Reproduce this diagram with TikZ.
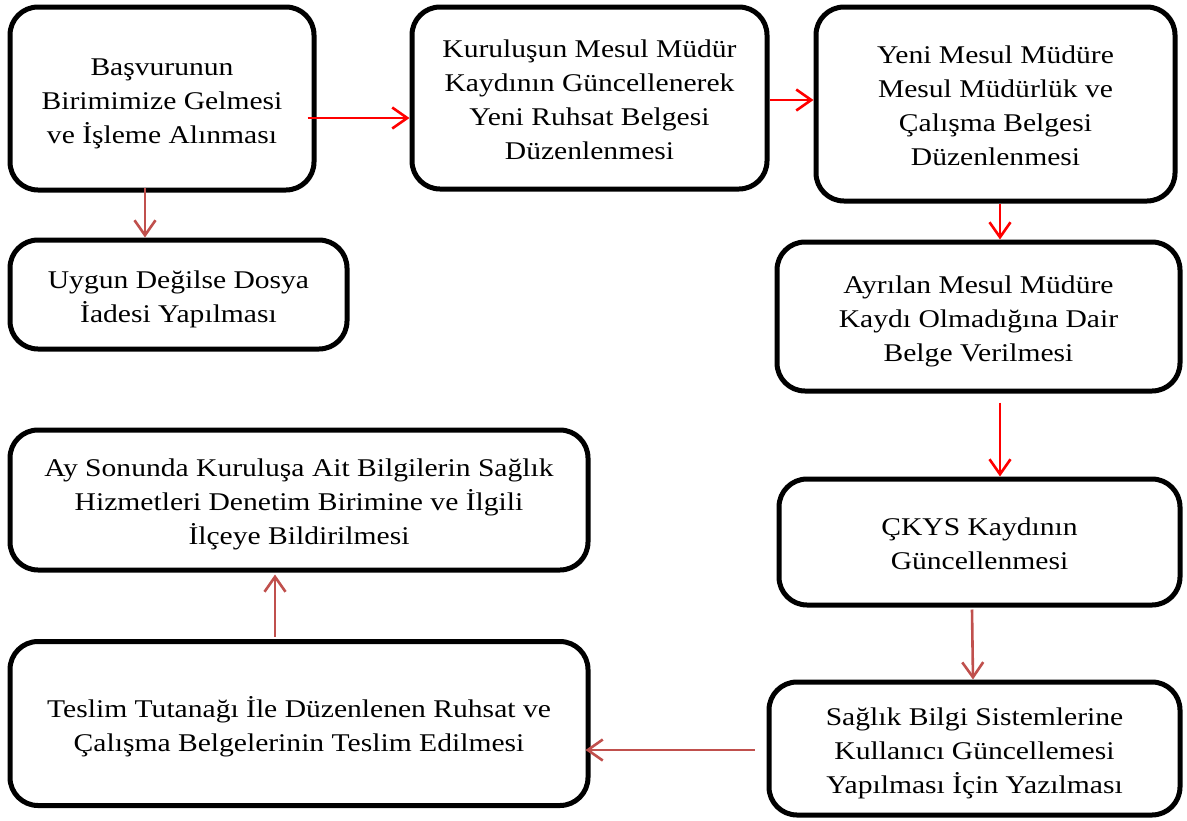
\documentclass[tikz,border=0pt]{standalone}
\usepackage{fontspec}
\usepackage{graphicx}
\setmainfont{Liberation Serif}
\usetikzlibrary{arrows.meta}
\definecolor{flowred}{HTML}{FF0000}
\definecolor{flowbrick}{HTML}{C0504D}
% centred multi-line label, set slightly wide and a little low
\newcommand{\steptext}[1]{\raisebox{-4pt}[\height][\depth]{\scalebox{1.16}[1]{\begin{tabular}{@{}c@{}}#1\end{tabular}}}}
\begin{document}
\begin{tikzpicture}[x=1pt,y=-1pt,
  stepbox/.style={draw=black, line width=5pt, rounded corners=28pt, fill=white,
    align=center, inner sep=0pt, font=\fontsize{25.5}{34}\selectfont},
  link/.style={line width=2.6pt, -{Straight Barb[length=15pt,width=21pt]}},
  linkred/.style={link, draw=flowred},
  linkbrick/.style={link, draw=flowbrick}]
\useasboundingbox (0,0) rectangle (1187,820);

% process steps
\node[stepbox, minimum width=304pt, minimum height=183pt] (b1) at (162,98.5)
  {\steptext{Başvurunun\\Birimimize Gelmesi\\ve İşleme Alınması}};
\node[stepbox, minimum width=355pt, minimum height=182pt] (b2) at (589.5,98)
  {\steptext{Kuruluşun Mesul Müdür\\Kaydının Güncellenerek\\Yeni Ruhsat Belgesi\\Düzenlenmesi}};
\node[stepbox, minimum width=359pt, minimum height=194pt] (b3) at (995.5,104)
  {\steptext{Yeni Mesul Müdüre\\Mesul Müdürlük ve\\Çalışma Belgesi\\Düzenlenmesi}};
\node[stepbox, minimum width=337pt, minimum height=109pt] (b4) at (178.5,294.5)
  {\steptext{Uygun Değilse Dosya\\İadesi Yapılması}};
\node[stepbox, minimum width=403pt, minimum height=149pt] (b5) at (978.5,316.5)
  {\steptext{Ayrılan Mesul Müdüre\\Kaydı Olmadığına Dair\\Belge Verilmesi}};
\node[stepbox, minimum width=578pt, minimum height=140pt] (b6) at (299,500)
  {\steptext{Ay Sonunda Kuruluşa Ait Bilgilerin Sağlık\\Hizmetleri Denetim Birimine ve İlgili\\İlçeye Bildirilmesi}};
\node[stepbox, minimum width=401pt, minimum height=126pt] (b7) at (979.5,542)
  {\steptext{ÇKYS Kaydının\\Güncellenmesi}};
\node[stepbox, minimum width=578pt, minimum height=164pt] (b8) at (299,723.5)
  {\steptext{Teslim Tutanağı İle Düzenlenen Ruhsat ve\\Çalışma Belgelerinin Teslim Edilmesi}};
\node[stepbox, minimum width=411pt, minimum height=133pt] (b9) at (974.5,748.5)
  {\steptext{Sağlık Bilgi Sistemlerine\\Kullanıcı Güncellemesi\\Yapılması İçin Yazılması}};

% connectors
\draw[linkred] ([shift={(-9,19.5)}]b1.east) -- ([shift={(0,20)}]b2.west);
\draw[linkred] ([shift={(0,2)}]b2.east) -- ([shift={(0,-4)}]b3.west);
\draw[linkred] ([shift={(4.5,0)}]b3.south) -- ([shift={(21.5,0)}]b5.north);
\draw[linkred] ([shift={(21.5,9)}]b5.south) -- ([shift={(20.5,0)}]b7.north);
\draw[linkbrick] ([shift={(-7.5,2)}]b7.south) -- ([shift={(-1.5,0)}]b9.north);
\draw[linkbrick] ([shift={(-12,1.5)}]b9.west) -- ([shift={(-5,26.5)}]b8.east);
\draw[linkbrick] ([shift={(-24,-2)}]b8.north) -- ([shift={(-24,2)}]b6.south);
\draw[linkbrick] ([shift={(-17,-5)}]b1.south) -- ([shift={(-33.5,0)}]b4.north);
\end{tikzpicture}
\end{document}
